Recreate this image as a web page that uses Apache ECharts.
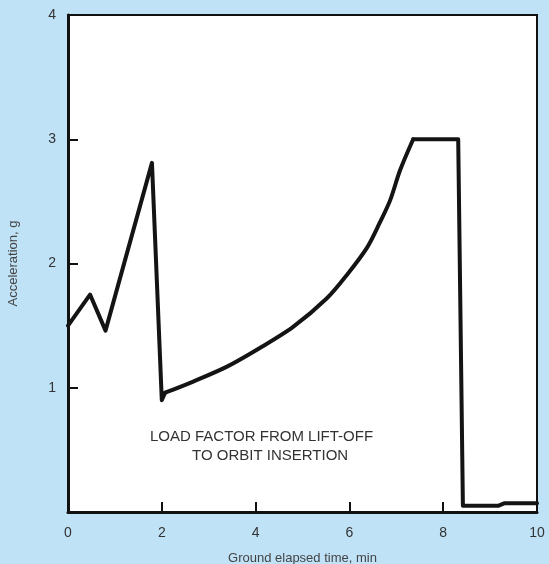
<!DOCTYPE html>
<html>
<head>
<meta charset="utf-8">
<script src="https://cdn.jsdelivr.net/npm/echarts@6/dist/echarts.min.js"></script>
<style>
html,body{margin:0;padding:0;background:#bfe2f7;}
#c{width:549px;height:564px;}
</style>
</head>
<body>
<div id="c"></div>
<script>
// Ground elapsed time (min) and acceleration (g)
var timeMin = [0, 0.47, 0.8, 1.79, 2.0, 2.07, 2.67, 3.39, 4.09, 4.8, 5.52, 5.95, 6.38, 6.65, 6.87, 7.08, 7.36, 8.32, 8.42, 9.17, 9.3, 10];
var accelG  = [1.5, 1.75, 1.46, 2.81, 0.9, 0.96, 1.05, 1.17, 1.32, 1.49, 1.72, 1.91, 2.13, 2.33, 2.51, 2.75, 3.0, 3.0, 0.05, 0.05, 0.07, 0.07];
var xTicks = [0, 2, 4, 6, 8, 10];
var yTicks = [0, 1, 2, 3, 4];
var annotationLines = ['LOAD FACTOR FROM LIFT-OFF', 'TO ORBIT INSERTION'];
// index ranges: sharp boost phase, smooth sustainer curve, plateau and cutoff
var curveStart = 5, curveEnd = 16;

var pts = timeMin.map(function (t, i) { return [t, accelG[i]]; });
var chart = echarts.init(document.getElementById('c'), null, {renderer: 'canvas'});
var font = 'Liberation Sans, Arial, Helvetica, sans-serif';
var lineStyle = {color: '#141414', width: 4, join: 'round', cap: 'round'};
chart.setOption({
  backgroundColor: '#bfe2f7',
  animation: false,
  grid: {left: 68, right: 12, top: 15, bottom: 52, show: true, backgroundColor: '#ffffff',
         borderColor: '#111', borderWidth: 2, containLabel: false, outerBoundsMode: 'none'},
  xAxis: {
    type: 'value', min: 0, max: 10, interval: 2,
    name: 'Ground elapsed time, min', nameLocation: 'middle', nameGap: 40,
    nameTextStyle: {color: '#444', fontSize: 13, fontFamily: font},
    axisLine: {show: true, lineStyle: {color: '#111', width: 3}},
    axisTick: {show: true, inside: true, length: 10, lineStyle: {color: '#111', width: 2}},
    axisLabel: {color: '#333', fontSize: 14, fontFamily: font, margin: 14,
      formatter: function (v) { return xTicks.indexOf(v) >= 0 ? String(v) : ''; }},
    splitLine: {show: false}
  },
  yAxis: {
    type: 'value', min: 0, max: 4, interval: 1,
    name: 'Acceleration, g', nameLocation: 'middle', nameGap: 48, nameRotate: 90,
    nameTextStyle: {color: '#444', fontSize: 13, fontFamily: font},
    axisLine: {show: true, lineStyle: {color: '#111', width: 3}},
    axisTick: {show: true, inside: true, length: 10, lineStyle: {color: '#111', width: 2}},
    axisLabel: {color: '#333', fontSize: 14, fontFamily: font, margin: 12,
      formatter: function (v) { return (v === 0 || yTicks.indexOf(v) < 0) ? '' : String(v); }},
    splitLine: {show: false}
  },
  graphic: [
    {type: 'text', left: 150, top: 429, style: {text: annotationLines[0], fill: '#333', font: '15px ' + font}},
    {type: 'text', left: 192, top: 448, style: {text: annotationLines[1], fill: '#333', font: '15px ' + font}}
  ],
  series: [
    {type: 'line', data: pts.slice(0, curveStart + 1), symbol: 'none', smooth: false, lineStyle: lineStyle},
    {type: 'line', data: pts.slice(curveStart, curveEnd + 1), symbol: 'none', smooth: 0.3, lineStyle: lineStyle},
    {type: 'line', data: pts.slice(curveEnd), symbol: 'none', smooth: false, lineStyle: lineStyle}
  ]
});
</script>
</body>
</html>
